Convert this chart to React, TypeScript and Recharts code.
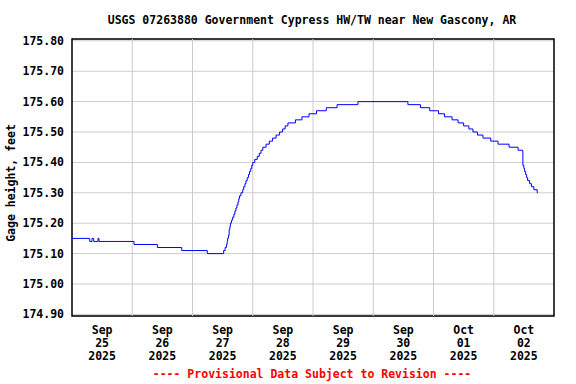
import { LineChart, Line, XAxis, YAxis, CartesianGrid, ReferenceLine, ReferenceArea } from "recharts";

// hours since Sep 25 2025 00:00, start of each 0.01 ft level
const hours = [
  0, 7.05, 7.97, 8.64, 10.36, 10.76, 24.7, 34.0, 43.7, 53.9,
  60.4, 61.0, 61.5, 61.8, 62.0, 62.3, 62.6, 62.9, 63.1, 63.5,
  64.0, 64.5, 64.9, 65.3, 65.7, 66.1, 66.4, 66.7, 67.3, 68.0,
  68.4, 68.9, 69.3, 69.8, 70.3, 70.7, 71.2, 71.6, 72.0, 72.8,
  73.8, 74.6, 75.3, 76.0, 77.3, 78.6, 79.9, 81.3, 82.7, 83.9,
  84.9, 86.0, 89.0, 91.6, 94.4, 97.4, 101.3, 105.6, 113.9, 133.8,
  138.8, 142.5, 146.0, 148.4, 151.4, 153.8, 156.0, 158.1, 159.7, 161.5,
  163.7, 166.8, 169.7, 174.1, 177.7, 179.6, 180.0, 180.3, 180.7, 181.1,
  181.5, 182.3, 183.0, 184.0, 185.3, 185.6,
];
const gage = [
  175.15, 175.14, 175.15, 175.14, 175.15, 175.14, 175.13, 175.12, 175.11, 175.10,
  175.11, 175.12, 175.13, 175.14, 175.15, 175.16, 175.18, 175.19, 175.20, 175.21,
  175.22, 175.23, 175.24, 175.25, 175.26, 175.27, 175.28, 175.29, 175.30, 175.31,
  175.32, 175.33, 175.34, 175.35, 175.36, 175.37, 175.38, 175.39, 175.40, 175.41,
  175.42, 175.43, 175.44, 175.45, 175.46, 175.47, 175.48, 175.49, 175.50, 175.51,
  175.52, 175.53, 175.54, 175.55, 175.56, 175.57, 175.58, 175.59, 175.60, 175.59,
  175.58, 175.57, 175.56, 175.55, 175.54, 175.53, 175.52, 175.51, 175.50, 175.49,
  175.48, 175.47, 175.46, 175.45, 175.44, 175.39, 175.38, 175.37, 175.36, 175.35,
  175.34, 175.33, 175.32, 175.31, 175.30, 175.30,
];

const labelHours = [12, 36, 60, 84, 108, 132, 156, 180];
const labelMonths = ["Sep", "Sep", "Sep", "Sep", "Sep", "Sep", "Oct", "Oct"];
const labelDays = ["25", "26", "27", "28", "29", "30", "01", "02"];
const labelYears = ["2025", "2025", "2025", "2025", "2025", "2025", "2025", "2025"];
const midnights = [24, 48, 72, 96, 120, 144, 168];
const yTicks = [174.9, 175.0, 175.1, 175.2, 175.3, 175.4, 175.5, 175.6, 175.7, 175.8];

const data = hours.map((h, i) => ({ h, v: gage[i] }));

const FONT = "'DejaVu Sans Mono', monospace";

function DayTick({ x, y, payload }: any) {
  const i = labelHours.indexOf(payload.value);
  return (
    <text textAnchor="middle" fontFamily={FONT} fontWeight="bold" fontSize={11.5} fill="#000">
      <tspan x={x} y={y + 17.5}>{labelMonths[i]}</tspan>
      <tspan x={x} y={y + 31}>{labelDays[i]}</tspan>
      <tspan x={x} y={y + 44}>{labelYears[i]}</tspan>
    </text>
  );
}

export default function App() {
  return (
    <div style={{ position: "absolute", left: 0, top: 0, width: 576, height: 384, background: "#fff", fontFamily: FONT }}>
      <div style={{ position: "absolute", top: 13, left: 24, width: 576, textAlign: "center", fontSize: 11.5, lineHeight: "14px", fontWeight: "bold" }}>
        USGS 07263880 Government Cypress HW/TW near New Gascony, AR
      </div>
      <div
        style={{
          position: "absolute",
          left: 11 - 100,
          top: 182.5 - 7,
          width: 200,
          textAlign: "center",
          fontSize: 11.5,
          lineHeight: "14px",
          fontWeight: "bold",
          transform: "rotate(-90deg)",
          zIndex: 1,
        }}
      >
        Gage height, feet
      </div>
      <LineChart width={576} height={384} data={data} margin={{ top: 39, right: 22, bottom: 0, left: 8 }}>
        <CartesianGrid vertical={false} stroke="#cccccc" />
        {midnights.map((m) => (
          <ReferenceLine key={m} x={m} stroke="#cccccc" />
        ))}
        <XAxis
          dataKey="h"
          type="number"
          domain={[0, 192]}
          ticks={labelHours}
          interval={0}
          tick={<DayTick />}
          tickLine={false}
          axisLine={false}
          tickSize={0}
          tickMargin={0}
          height={68}
        />
        <YAxis
          type="number"
          domain={[174.8947, 175.806]}
          ticks={yTicks}
          interval={0}
          tickFormatter={(v: number) => v.toFixed(2)}
          tick={{ fill: "#000", fontFamily: FONT, fontWeight: "bold", fontSize: 11.5 }}
          tickLine={false}
          axisLine={false}
          tickSize={0}
          tickMargin={8}
          width={64}
        />
        <ReferenceArea x1={0} x2={192} y1={174.8947} y2={175.806} fill="none" stroke="#000" strokeWidth={1.5} />
        <Line type="stepAfter" dataKey="v" stroke="#0000ff" strokeWidth={1} dot={false} isAnimationActive={false} />
      </LineChart>
      <div style={{ position: "absolute", top: 367, left: 24, width: 576, textAlign: "center", fontSize: 11.5, lineHeight: "14px", fontWeight: "bold", color: "#ff0000" }}>
        ---- Provisional Data Subject to Revision ----
      </div>
    </div>
  );
}
